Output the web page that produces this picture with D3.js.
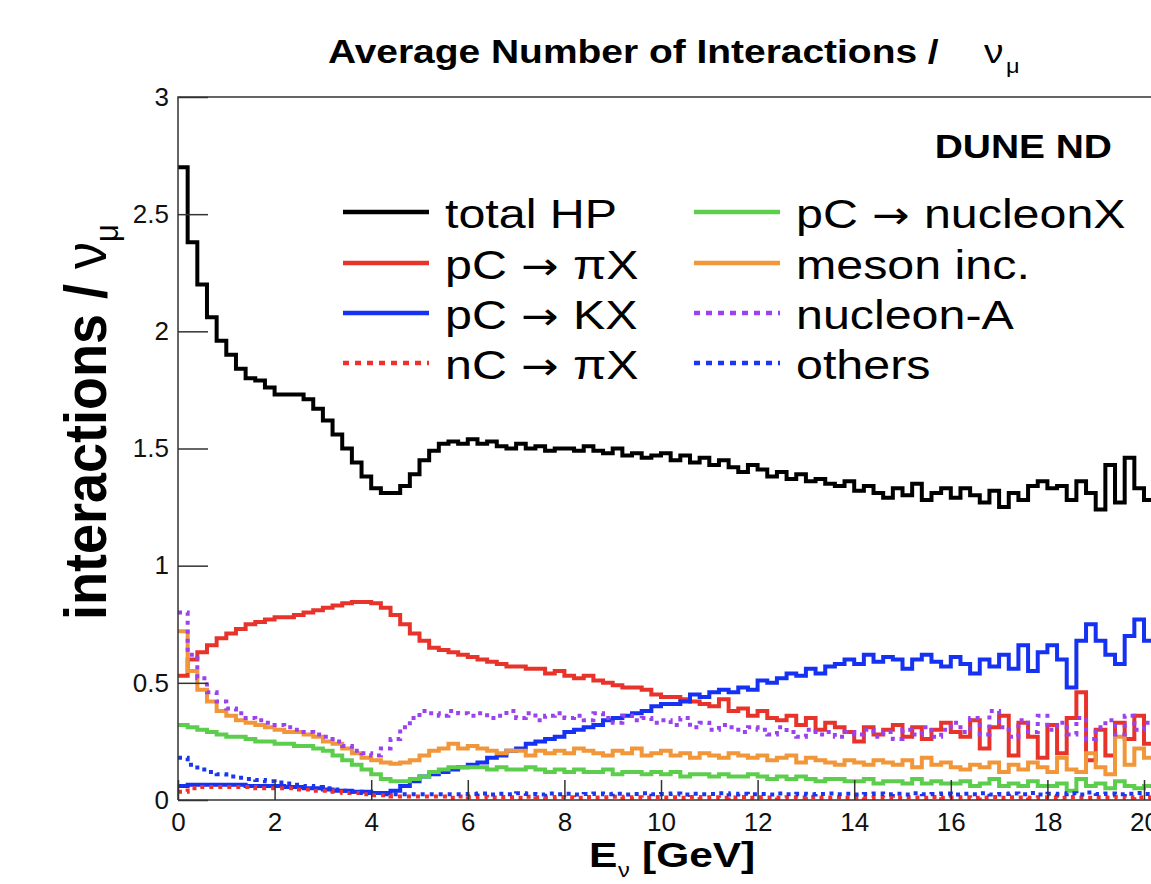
<!DOCTYPE html>
<html>
<head>
<meta charset="utf-8">
<script src="https://cdn.jsdelivr.net/npm/d3@7"></script>
<style>
body { margin: 0; background: #fff; }
svg { display: block; font-family: "Liberation Sans", Arial, Helvetica, sans-serif; }
</style>
</head>
<body>
<svg id="chart" width="1151" height="884"></svg>
<script>
// bins of 0.2 GeV starting at 0
var binWidth = 0.2;

var totalHP = [2.70,2.38,2.20,2.06,1.96,1.90,1.84,1.80,1.79,1.76,
  1.73,1.73,1.73,1.71,1.67,1.62,1.56,1.50,1.44,1.38,
  1.33,1.31,1.31,1.34,1.39,1.45,1.49,1.52,1.53,1.52,
  1.54,1.52,1.53,1.51,1.50,1.52,1.50,1.51,1.49,1.50,
  1.50,1.49,1.51,1.49,1.48,1.50,1.47,1.48,1.46,1.47,
  1.48,1.45,1.47,1.44,1.46,1.43,1.45,1.42,1.40,1.43,
  1.41,1.38,1.40,1.37,1.39,1.36,1.37,1.35,1.34,1.36,
  1.32,1.34,1.31,1.29,1.33,1.30,1.35,1.28,1.31,1.33,
  1.29,1.33,1.30,1.27,1.32,1.25,1.31,1.28,1.34,1.36,
  1.33,1.34,1.28,1.36,1.31,1.24,1.43,1.27,1.46,1.33,
  1.28,1.30];

var pCpiX = [0.53,0.60,0.63,0.66,0.69,0.71,0.73,0.75,0.76,0.77,
  0.78,0.78,0.79,0.80,0.81,0.82,0.83,0.84,0.845,0.845,
  0.84,0.82,0.79,0.75,0.71,0.68,0.65,0.64,0.63,0.62,
  0.61,0.60,0.59,0.58,0.57,0.57,0.56,0.56,0.54,0.55,
  0.53,0.52,0.53,0.51,0.50,0.49,0.48,0.48,0.47,0.45,
  0.44,0.44,0.43,0.42,0.41,0.40,0.43,0.38,0.39,0.36,
  0.38,0.35,0.34,0.36,0.32,0.35,0.30,0.33,0.31,0.29,
  0.25,0.31,0.28,0.30,0.32,0.27,0.31,0.26,0.30,0.33,
  0.29,0.27,0.34,0.22,0.31,0.36,0.19,0.33,0.27,0.18,
  0.32,0.20,0.35,0.46,0.17,0.30,0.19,0.33,0.26,0.36,
  0.24,0.32];

var pCKX = [0.06,0.065,0.065,0.065,0.065,0.065,0.065,0.06,0.06,0.06,
  0.06,0.055,0.055,0.05,0.05,0.045,0.04,0.04,0.035,0.035,
  0.03,0.03,0.04,0.06,0.08,0.10,0.11,0.12,0.13,0.14,
  0.15,0.16,0.18,0.19,0.21,0.22,0.24,0.25,0.26,0.27,
  0.29,0.30,0.31,0.32,0.34,0.35,0.36,0.37,0.38,0.40,
  0.41,0.41,0.42,0.45,0.44,0.46,0.47,0.46,0.48,0.47,
  0.51,0.50,0.52,0.54,0.53,0.56,0.54,0.57,0.58,0.60,
  0.58,0.62,0.59,0.61,0.60,0.56,0.60,0.62,0.59,0.57,
  0.61,0.58,0.54,0.60,0.57,0.62,0.56,0.66,0.55,0.63,
  0.66,0.60,0.48,0.68,0.75,0.68,0.62,0.58,0.70,0.77,
  0.68,0.62];

var nCpiX = [0.035,0.05,0.055,0.055,0.055,0.055,0.055,0.055,0.05,0.05,
  0.05,0.05,0.045,0.045,0.04,0.04,0.035,0.03,0.03,0.025,
  0.02,0.02,0.015,0.015,0.015,0.015,0.015,0.015,0.01,0.015,
  0.012,0.014,0.011,0.013,0.012,0.010,0.014,0.012,0.011,0.013,
  0.012,0.010,0.013,0.011,0.012,0.014,0.010,0.012,0.011,0.013,
  0.011,0.012,0.010,0.013,0.011,0.012,0.010,0.011,0.013,0.010,
  0.012,0.011,0.010,0.012,0.011,0.013,0.010,0.011,0.012,0.010,
  0.011,0.010,0.012,0.011,0.010,0.012,0.011,0.010,0.013,0.010,
  0.011,0.012,0.010,0.011,0.013,0.010,0.012,0.011,0.010,0.012,
  0.011,0.010,0.013,0.011,0.010,0.012,0.011,0.014,0.010,0.012,
  0.011,0.010];

var pCnucleonX = [0.32,0.31,0.30,0.29,0.28,0.27,0.27,0.26,0.25,0.25,
  0.24,0.24,0.23,0.23,0.22,0.21,0.19,0.17,0.15,0.13,
  0.11,0.09,0.08,0.08,0.09,0.10,0.12,0.13,0.14,0.14,
  0.14,0.14,0.13,0.14,0.13,0.13,0.14,0.13,0.12,0.13,
  0.12,0.13,0.12,0.12,0.13,0.11,0.12,0.12,0.11,0.12,
  0.11,0.12,0.10,0.11,0.11,0.10,0.11,0.10,0.10,0.11,
  0.10,0.09,0.10,0.09,0.10,0.09,0.08,0.09,0.09,0.08,
  0.08,0.09,0.07,0.08,0.08,0.07,0.09,0.07,0.08,0.07,
  0.07,0.08,0.06,0.07,0.09,0.06,0.07,0.06,0.08,0.06,
  0.06,0.07,0.04,0.09,0.06,0.07,0.05,0.08,0.06,0.05,
  0.06,0.05];

var mesonInc = [0.72,0.55,0.47,0.42,0.38,0.36,0.34,0.33,0.32,0.31,
  0.30,0.29,0.29,0.28,0.27,0.25,0.24,0.22,0.20,0.18,
  0.17,0.16,0.155,0.16,0.17,0.19,0.21,0.22,0.24,0.22,
  0.23,0.22,0.21,0.20,0.21,0.21,0.19,0.21,0.20,0.21,
  0.20,0.22,0.21,0.20,0.19,0.21,0.20,0.22,0.19,0.20,
  0.21,0.19,0.20,0.18,0.20,0.19,0.18,0.20,0.19,0.18,
  0.19,0.17,0.18,0.19,0.16,0.18,0.17,0.16,0.15,0.17,
  0.16,0.15,0.17,0.16,0.15,0.17,0.14,0.18,0.15,0.16,
  0.14,0.13,0.15,0.14,0.16,0.12,0.15,0.13,0.16,0.14,
  0.12,0.18,0.13,0.12,0.20,0.14,0.11,0.27,0.15,0.22,
  0.18,0.24];

var nucleonA = [0.80,0.62,0.52,0.46,0.42,0.39,0.37,0.35,0.34,0.33,
  0.32,0.31,0.30,0.29,0.28,0.27,0.25,0.23,0.21,0.20,
  0.19,0.22,0.26,0.31,0.35,0.38,0.37,0.36,0.38,0.37,
  0.36,0.37,0.35,0.36,0.38,0.35,0.37,0.34,0.36,0.37,
  0.35,0.36,0.34,0.37,0.35,0.33,0.36,0.34,0.35,0.33,
  0.34,0.32,0.35,0.31,0.33,0.30,0.32,0.31,0.29,0.31,
  0.30,0.28,0.31,0.29,0.27,0.30,0.28,0.29,0.27,0.29,
  0.28,0.30,0.27,0.29,0.26,0.30,0.28,0.31,0.27,0.30,
  0.33,0.29,0.35,0.28,0.38,0.31,0.27,0.34,0.29,0.36,
  0.30,0.33,0.28,0.35,0.26,0.31,0.34,0.28,0.36,0.30,
  0.33,0.29];

var others = [0.18,0.15,0.13,0.12,0.11,0.10,0.095,0.09,0.085,0.08,
  0.075,0.07,0.065,0.06,0.055,0.05,0.045,0.04,0.035,0.03,
  0.03,0.025,0.025,0.025,0.025,0.025,0.025,0.025,0.025,0.025,
  0.026,0.028,0.024,0.027,0.025,0.029,0.026,0.024,0.028,0.025,
  0.027,0.024,0.026,0.028,0.025,0.027,0.024,0.026,0.029,0.025,
  0.026,0.028,0.024,0.027,0.025,0.026,0.029,0.024,0.027,0.025,
  0.026,0.024,0.028,0.025,0.027,0.024,0.026,0.028,0.025,0.027,
  0.024,0.026,0.028,0.025,0.027,0.024,0.029,0.025,0.026,0.028,
  0.024,0.027,0.025,0.029,0.024,0.026,0.028,0.025,0.030,0.024,
  0.027,0.025,0.029,0.024,0.032,0.026,0.028,0.025,0.027,0.030,
  0.026,0.028];

// legend text pieces: [before arrow, after arrow]
var seriesNames = [["total HP"], ["pC", "\u03c0X"], ["pC", "KX"], ["nC", "\u03c0X"],
  ["pC", "nucleonX"], ["meson inc."], ["nucleon-A"], ["others"]];
var seriesValues = [totalHP, pCpiX, pCKX, nCpiX, pCnucleonX, mesonInc, nucleonA, others];
var seriesColors = ["#000000", "#e8332b", "#1531f2", "#f0302a", "#5ccd4c", "#f1973a", "#9a42f0", "#1a36f0"];
var seriesDotted = [false, false, false, true, false, false, true, true];

var xTicks = [0, 2, 4, 6, 8, 10, 12, 14, 16, 18, 20];
var yTicks = [0, 0.5, 1, 1.5, 2, 2.5, 3];

var svg = d3.select("#chart");
var plotLeft = 178, plotRight = 1144, plotTop = 97, plotBottom = 800;

var x = d3.scaleLinear().domain([0, 20]).range([plotLeft, plotRight]);
var y = d3.scaleLinear().domain([0, 3]).range([plotBottom, plotTop]);

var sx = 1.18; // the picture is stretched sideways

function label(px, py, str, size, weight, anchor) {
  return svg.append("text")
    .attr("transform", "translate(" + px + "," + py + ") scale(" + sx + ",1)")
    .attr("text-anchor", anchor || "start")
    .style("font-size", size + "px")
    .style("font-weight", weight || "normal")
    .text(str);
}

svg.append("defs").append("clipPath").attr("id", "plot")
  .append("rect").attr("x", plotLeft).attr("y", plotTop).attr("width", 1151 - plotLeft).attr("height", plotBottom - plotTop);

// histograms
var line = d3.line()
  .x(function(d) { return x(d[0]); })
  .y(function(d) { return y(d[1]); })
  .curve(d3.curveStepAfter);

var hists = svg.append("g").attr("clip-path", "url(#plot)");
seriesValues.forEach(function(vals, k) {
  var pts = vals.map(function(v, i) { return [i * binWidth, v]; });
  pts.push([vals.length * binWidth, vals[vals.length - 1]]);
  hists.append("path")
    .datum(pts)
    .attr("d", line)
    .attr("fill", "none")
    .attr("stroke", seriesColors[k])
    .attr("stroke-width", 4)
    .attr("stroke-dasharray", seriesDotted[k] ? "4,5" : null);
});

// axes, ROOT style ticks pointing inward
var minorX = d3.range(0, 20.01, 0.5).filter(function(v) { return v % 2 !== 0; });
var minorY = d3.range(0, 3.001, 0.1).map(function(v) { return Math.round(v * 10) / 10; })
  .filter(function(v) { return yTicks.indexOf(v) < 0; });

var gx = svg.append("g").attr("transform", "translate(0," + plotBottom + ")");
gx.call(d3.axisBottom(x).tickValues(minorX).tickSize(-10).tickFormat(""));
gx.call(d3.axisBottom(x).tickValues(xTicks).tickSize(-20).tickPadding(11).tickFormat(d3.format("d")));

var gy = svg.append("g").attr("transform", "translate(" + plotLeft + ",0)");
gy.call(d3.axisLeft(y).tickValues(minorY).tickSize(-14).tickFormat(""));
gy.call(d3.axisLeft(y).tickValues(yTicks).tickSize(-30).tickPadding(9).tickFormat(function(d) { return d; }));

svg.selectAll(".domain").remove();
svg.selectAll(".tick line").attr("stroke", "#333").attr("stroke-width", 1.5);
svg.selectAll(".tick text").style("font-size", "26px").style("font-family", "'Liberation Sans', Arial, sans-serif").attr("fill", "#111");
gx.selectAll(".tick text").attr("dy", "0.75em");

// frame
svg.append("path")
  .attr("d", "M" + plotLeft + "," + plotBottom + "H1151M" + plotLeft + "," + plotBottom + "V" + plotTop + "H1151")
  .attr("fill", "none").attr("stroke", "#333").attr("stroke-width", 1.5);

// title
label(328, 63, "Average Number of Interactions /", 33, "bold");
label(984, 63, "\u03bd", 33, "normal");
label(1006, 73, "\u03bc", 20, "normal");

// axis titles
label(589, 867, "E", 36, "bold");
label(618, 877, "\u03bd", 20, "normal");
label(642, 867, "[GeV]", 36, "bold");

var yl = svg.append("text")
  .attr("transform", "translate(106,620) rotate(-90) scale(1,1.1)")
  .style("font-size", "54px").style("font-weight", "bold");
yl.append("tspan").text("interactions / ");
yl.append("tspan").style("font-weight", "normal").text("\u03bd");
yl.append("tspan").attr("dy", 11).style("font-size", "31px").style("font-weight", "normal").text("\u03bc");

label(1112, 158, "DUNE ND", 33, "bold", "end");

// legend
var rowY = [212, 263, 313, 363];
var colX = [343, 694];
seriesNames.forEach(function(name, k) {
  var col = Math.floor(k / 4), row = k % 4;
  var lx = colX[col], ly = rowY[row];
  svg.append("line")
    .attr("x1", lx).attr("x2", lx + 86).attr("y1", ly).attr("y2", ly)
    .attr("stroke", seriesColors[k]).attr("stroke-width", 4.5)
    .attr("stroke-dasharray", seriesDotted[k] ? "6,6" : null);
  var t = label(lx + 102, ly + 16, name[0], 41, "normal");
  if (name.length > 1) {
    t.append("tspan").style("font-family", "'DejaVu Sans'").style("font-size", "38px").text(" \u2192 ");
    t.append("tspan").text(name[1]);
  }
});
</script>
</body>
</html>
